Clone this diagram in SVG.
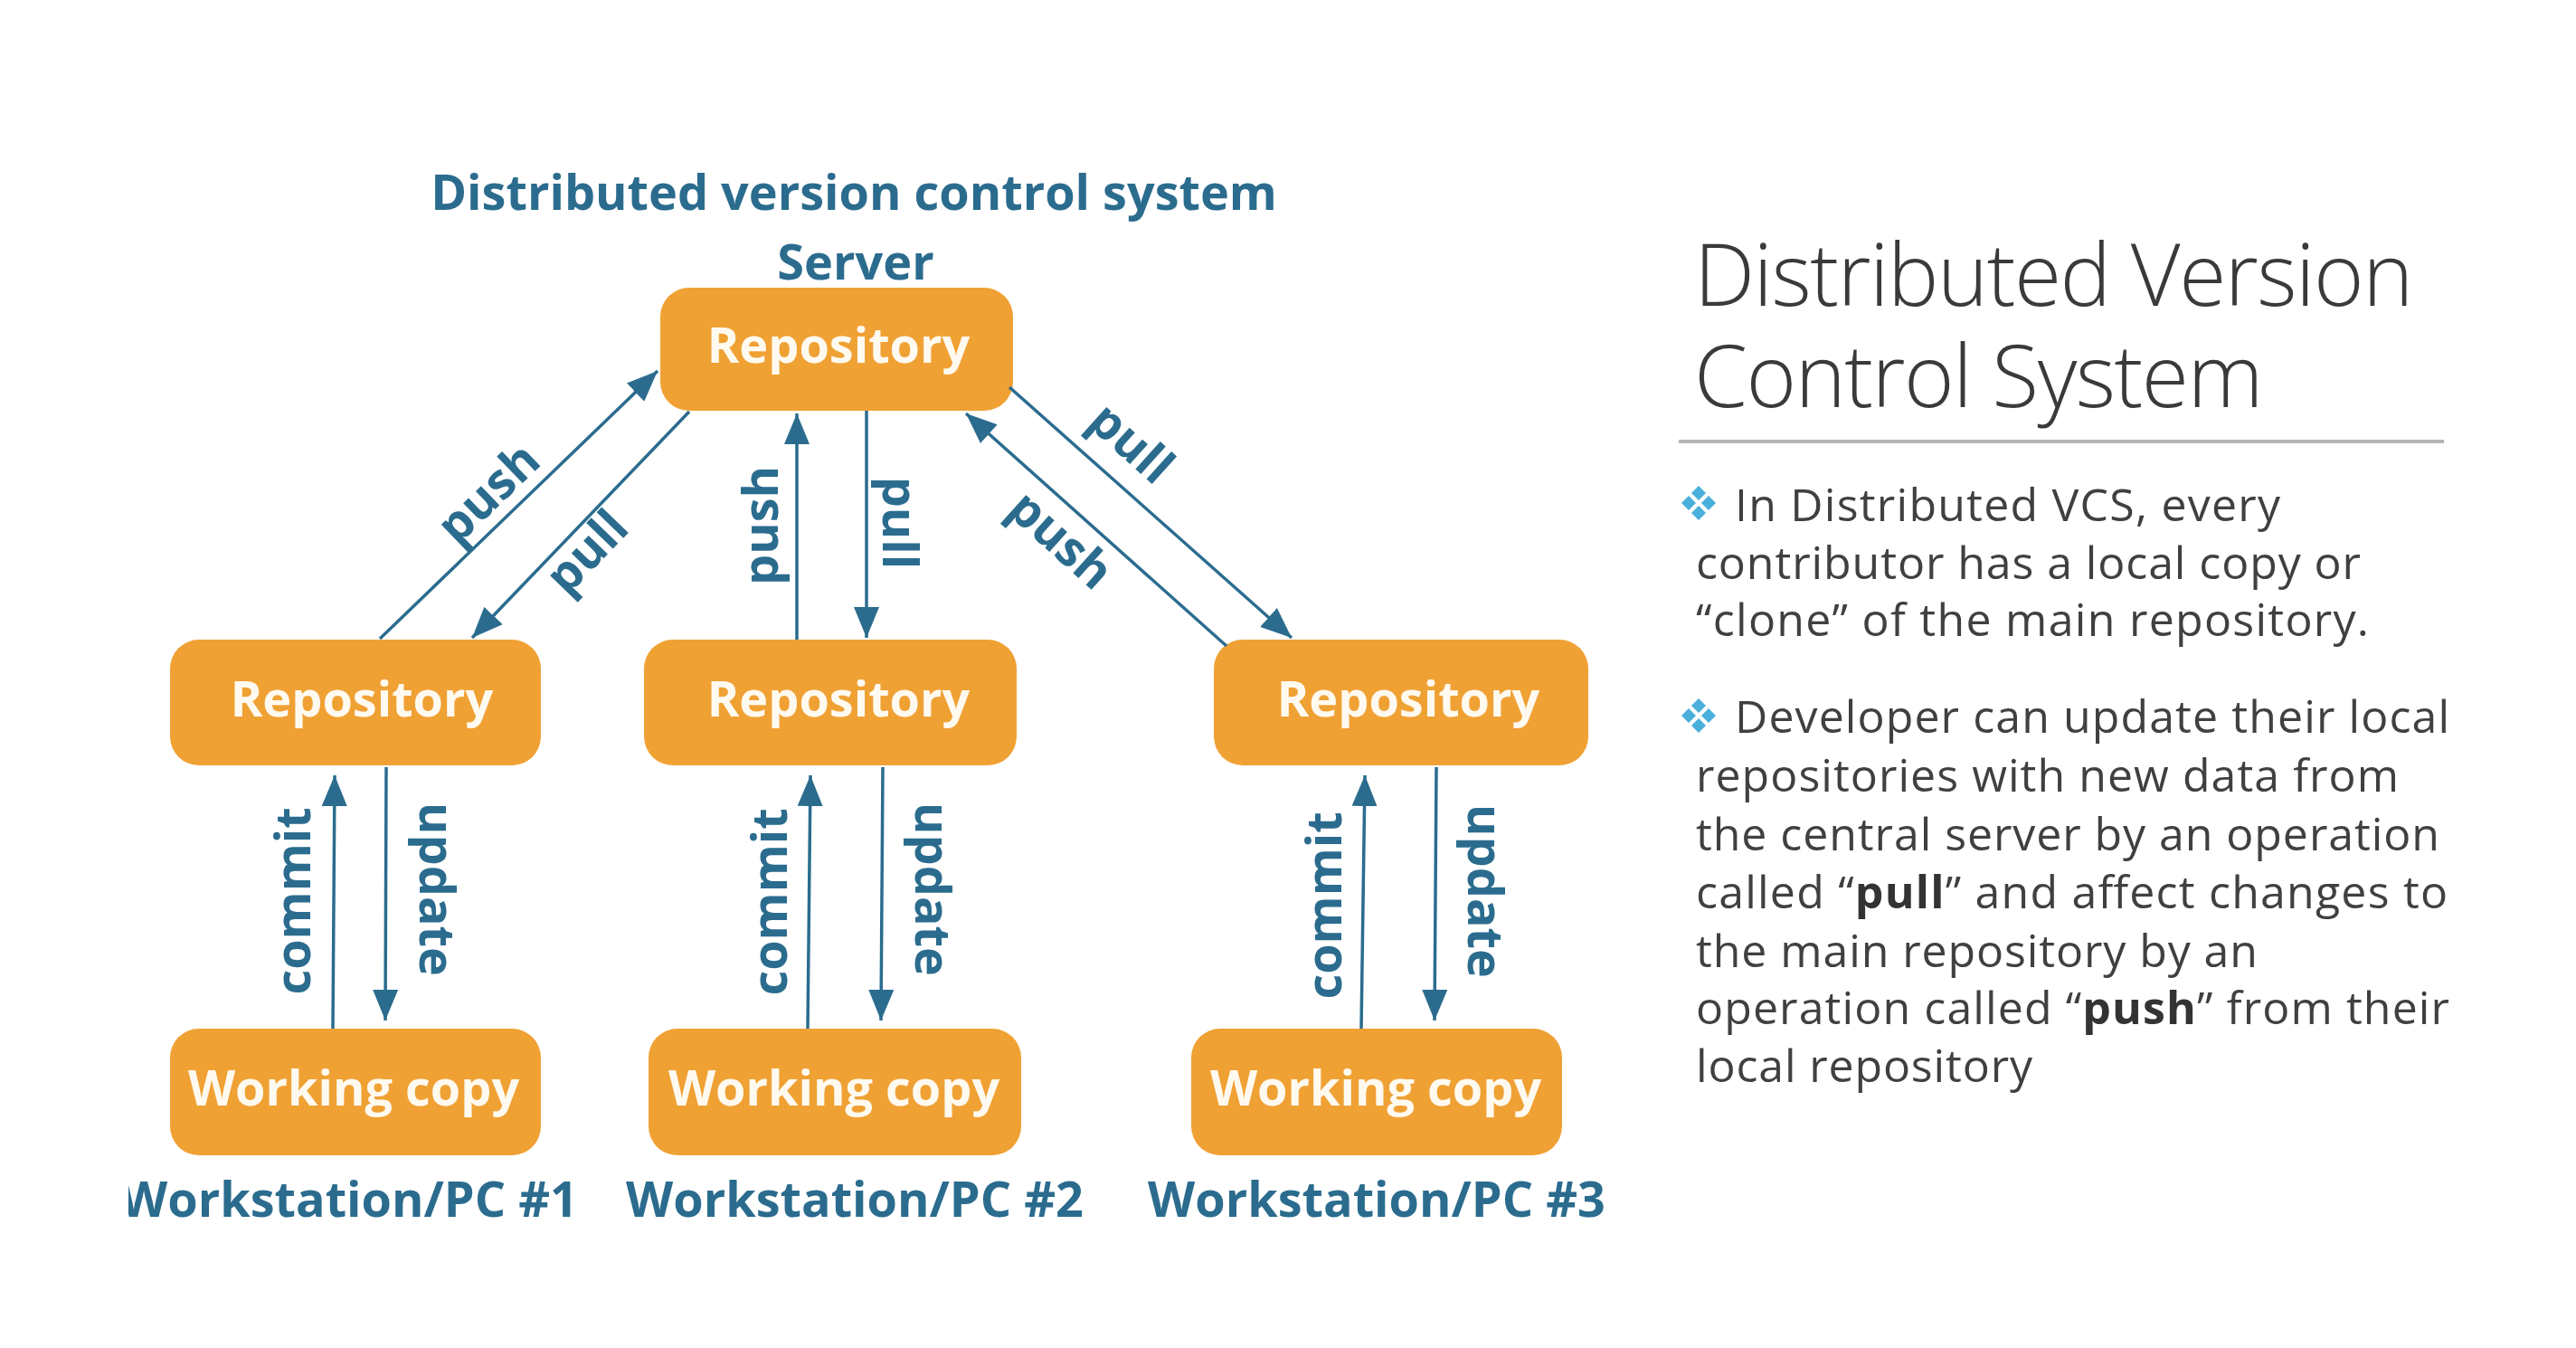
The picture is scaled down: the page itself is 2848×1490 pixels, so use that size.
<svg xmlns="http://www.w3.org/2000/svg" width="2848" height="1490" viewBox="0 0 2848 1490">
  <style>
    .lbl { font-family: "Open Sans", "Noto Sans", "DejaVu Sans", sans-serif; font-weight: 700; font-size: 54px; fill: #2B6C8E; text-anchor: middle; }
    .box { fill: #F0A134; }
    .btxt { font-family: "Open Sans", "Noto Sans", "DejaVu Sans", sans-serif; font-weight: 700; font-size: 54px; fill: #FFFAF0; text-anchor: middle; }
    .conn { stroke: #2B6C8E; stroke-width: 3.5; fill: none; marker-end: url(#arrow); }
    .h1 { font-family: "Open Sans", "Noto Sans", sans-serif; font-weight: 350; font-size: 95px; letter-spacing: -1.5px; fill: #3A3A3A; }
    .body { font-family: "Open Sans", "Noto Sans", sans-serif; font-weight: 400; font-size: 50px; fill: #404040; }
    .body .b { font-weight: 700; fill: #333333; }
  </style>
  <defs>
    <marker id="arrow" viewBox="0 0 34 28" refX="34" refY="14" markerWidth="34" markerHeight="28" markerUnits="userSpaceOnUse" orient="auto">
      <path d="M0,0 L34,14 L0,28 z" fill="#2B6C8E"/>
    </marker>
    <g id="bullet" fill="#4AAFDB">
      <path d="M0,-19 L8,-11 L0,-3 L-8,-11 z"/>
      <path d="M-11,-8 L-3,0 L-11,8 L-19,0 z"/>
      <path d="M11,-8 L19,0 L11,8 L3,0 z"/>
      <path d="M0,3 L8,11 L0,19 L-8,11 z"/>
    </g>
    <clipPath id="labelClip">
      <rect x="142" y="1260" width="600" height="120"/>
    </clipPath>
  </defs>

  <rect width="2848" height="1490" fill="#FFFFFF"/>

  <!-- diagram heading -->
  <text class="lbl" x="944" y="232">Distributed version control system</text>
  <text class="lbl" x="946" y="309">Server</text>

  <!-- nodes -->
  <g id="server-repo">
    <rect class="box" x="730" y="318" width="390" height="136" rx="32"/>
    <text class="btxt" x="927" y="401">Repository</text>
  </g>
  <g id="repo-1">
    <rect class="box" x="188" y="707" width="410" height="139" rx="32"/>
    <text class="btxt" x="400" y="792">Repository</text>
  </g>
  <g id="repo-2">
    <rect class="box" x="712" y="707" width="412" height="139" rx="32"/>
    <text class="btxt" x="927" y="792">Repository</text>
  </g>
  <g id="repo-3">
    <rect class="box" x="1342" y="707" width="414" height="139" rx="32"/>
    <text class="btxt" x="1557" y="792">Repository</text>
  </g>
  <g id="wc-1">
    <rect class="box" x="188" y="1137" width="410" height="140" rx="32"/>
    <text class="btxt" x="391" y="1222">Working copy</text>
  </g>
  <g id="wc-2">
    <rect class="box" x="717" y="1137" width="412" height="140" rx="32"/>
    <text class="btxt" x="922" y="1222">Working copy</text>
  </g>
  <g id="wc-3">
    <rect class="box" x="1317" y="1137" width="410" height="140" rx="32"/>
    <text class="btxt" x="1521" y="1222">Working copy</text>
  </g>

  <!-- workstation captions -->
  <text class="lbl" x="386" y="1345" clip-path="url(#labelClip)">Workstation/PC #1</text>
  <text class="lbl" x="945" y="1345">Workstation/PC #2</text>
  <text class="lbl" x="1522" y="1345">Workstation/PC #3</text>

  <!-- connectors -->
  <g id="connectors">
    <line class="conn" x1="420" y1="706" x2="727" y2="410"/>
    <line class="conn" x1="762" y1="455" x2="522" y2="705"/>
    <line class="conn" x1="881" y1="707" x2="881" y2="457"/>
    <line class="conn" x1="958" y1="454" x2="958" y2="705"/>
    <line class="conn" x1="1116" y1="428" x2="1428" y2="705"/>
    <line class="conn" x1="1356" y1="714" x2="1068" y2="457"/>

    <line class="conn" x1="368" y1="1137" x2="370" y2="857"/>
    <line class="conn" x1="427" y1="848" x2="426" y2="1128"/>
    <line class="conn" x1="893" y1="1137" x2="896" y2="857"/>
    <line class="conn" x1="976" y1="848" x2="974" y2="1128"/>
    <line class="conn" x1="1505" y1="1137" x2="1509" y2="857"/>
    <line class="conn" x1="1588" y1="848" x2="1586" y2="1128"/>

    <!-- connector labels -->
    <g class="lbl">
      <text transform="translate(543,548) rotate(-44)" y="14">push</text>
      <text transform="translate(652,613) rotate(-46)" y="14">pull</text>
      <text transform="translate(846,581) rotate(-90)" y="14">push</text>
      <text transform="translate(990,578) rotate(90)" y="14">pull</text>
      <text transform="translate(1248,493) rotate(42)" y="14">pull</text>
      <text transform="translate(1170,600) rotate(42)" y="14">push</text>

      <text transform="translate(324,996) rotate(-90)" y="19">commit</text>
      <text transform="translate(478,983) rotate(90)" y="14">update</text>
      <text transform="translate(851,997) rotate(-90)" y="19">commit</text>
      <text transform="translate(1026,983) rotate(90)" y="14">update</text>
      <text transform="translate(1464,1001) rotate(-90)" y="19">commit</text>
      <text transform="translate(1637,985) rotate(90)" y="14">update</text>
    </g>
  </g>

  <!-- explanatory panel -->
  <text class="h1"><tspan x="1873" y="338">Distributed Version</tspan><tspan x="1873" y="450">Control System</tspan></text>
  <line x1="1856" y1="488" x2="2702" y2="488" stroke="#B5B5B5" stroke-width="4"/>

  <use href="#bullet" x="1878" y="556"/>
  <text class="body" x="1918" y="576" textLength="603">In Distributed VCS, every</text>
  <text class="body" x="1875" y="640" textLength="735">contributor has a local copy or</text>
  <text class="body" x="1875" y="703" textLength="744">“clone” of the main repository.</text>

  <use href="#bullet" x="1878" y="791"/>
  <text class="body" x="1918" y="810" textLength="790">Developer can update their local</text>
  <text class="body" x="1875" y="875" textLength="777">repositories with new data from</text>
  <text class="body" x="1875" y="940" textLength="822">the central server by an operation</text>
  <text class="body" x="1875" y="1004" textLength="831">called “<tspan class="b">pull</tspan>” and affect changes to</text>
  <text class="body" x="1875" y="1069" textLength="621">the main repository by an</text>
  <text class="body" x="1875" y="1132" textLength="833">operation called “<tspan class="b">push</tspan>” from their</text>
  <text class="body" x="1875" y="1196" textLength="372">local repository</text>
</svg>
